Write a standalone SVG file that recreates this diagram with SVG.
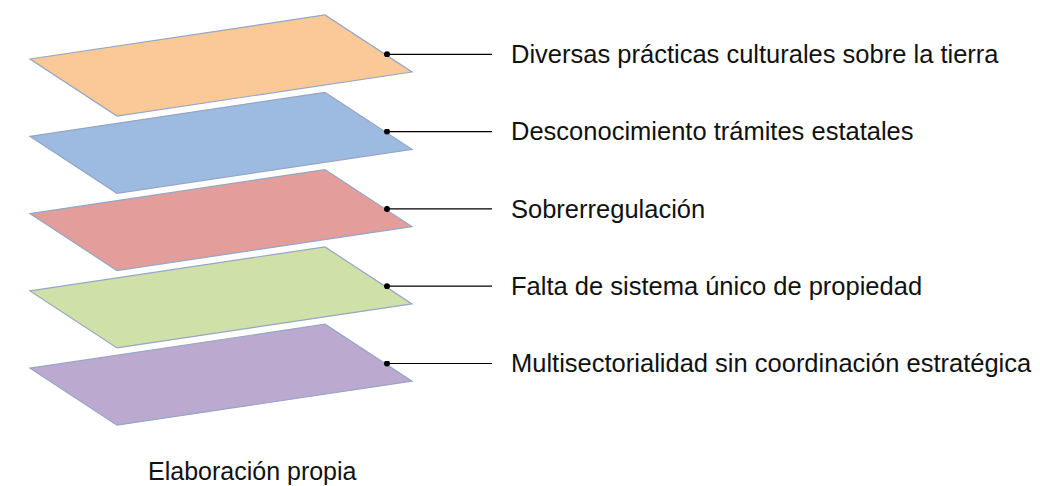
<svg xmlns="http://www.w3.org/2000/svg" width="1040" height="486" viewBox="0 0 1040 486">
<style>
.layer{stroke:#94a6c4;stroke-width:1.2}
.lbl{font-family:"Liberation Sans",Arial,sans-serif;font-size:25.5px;fill:#111}
.cap{font-family:"Liberation Sans",Arial,sans-serif;font-size:25px;fill:#111}
.conn{stroke:#000;stroke-width:1.2;fill:none}
</style>
<defs>
<polygon id="plane" points="30,59 325,15 412,72 117,116"/>
<marker id="dot" markerWidth="6" markerHeight="6" refX="3" refY="3" markerUnits="userSpaceOnUse"><circle cx="3" cy="3" r="3" fill="#000"/></marker>
</defs>
<rect width="1040" height="486" fill="#fff"/>
<g id="layer1"><use href="#plane" class="layer" fill="#fbc998"/></g>
<g id="layer2" transform="translate(0,77.3)"><use href="#plane" class="layer" fill="#9dbbe1"/></g>
<g id="layer3" transform="translate(0,154.6)"><use href="#plane" class="layer" fill="#e39d9b"/></g>
<g id="layer4" transform="translate(0,231.9)"><use href="#plane" class="layer" fill="#cfe1a9"/></g>
<g id="layer5" transform="translate(0,309.2)"><use href="#plane" class="layer" fill="#bba9d0"/></g>
<g id="connectors">
<path class="conn" marker-start="url(#dot)" d="M387,54.3 H492"/>
<path class="conn" marker-start="url(#dot)" d="M387,131.6 H492"/>
<path class="conn" marker-start="url(#dot)" d="M387,208.9 H492"/>
<path class="conn" marker-start="url(#dot)" d="M387,286.2 H492"/>
<path class="conn" marker-start="url(#dot)" d="M387,363.5 H492"/>
</g>
<g id="labels">
<text class="lbl" x="511" y="63">Diversas prácticas culturales sobre la tierra</text>
<text class="lbl" x="511" y="140.3">Desconocimiento trámites estatales</text>
<text class="lbl" x="511" y="217.6">Sobrerregulación</text>
<text class="lbl" x="511" y="294.9">Falta de sistema único de propiedad</text>
<text class="lbl" x="511" y="372.2">Multisectorialidad sin coordinación estratégica</text>
</g>
<text class="cap" x="148" y="480">Elaboración propia</text>
</svg>
